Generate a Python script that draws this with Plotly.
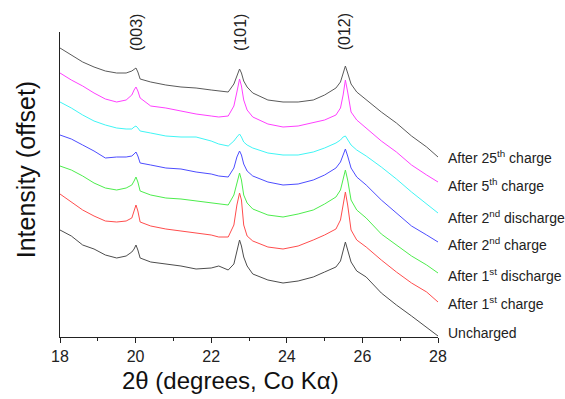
import plotly.graph_objects as go

# 2-theta grid (degrees, Co K-alpha)
two_theta = [18.0, 18.3, 18.6, 18.9, 19.2, 19.5, 19.75, 19.9, 19.96, 20.01, 20.06, 20.12,
             20.4, 20.8, 21.2, 21.6, 22.0, 22.2, 22.45, 22.6, 22.68, 22.75, 22.8, 22.86,
             22.95, 23.1, 23.5, 23.9, 24.3, 24.7, 25.0, 25.3, 25.42, 25.49, 25.55, 25.61,
             25.7, 25.85, 26.1, 26.5, 26.9, 27.3, 27.7, 28.0]

# offset intensities (arbitrary units, already stacked)
uncharged = [107, 101, 92, 88, 82, 79, 81, 85, 88, 92, 87, 79,
             75, 73, 71, 68, 69, 71, 67, 73, 87, 97, 91, 80,
             71, 63, 57, 54, 56, 60, 65, 70, 76, 85, 95, 87,
             75, 66, 60, 44, 32, 21, 10, 1]
after_1st_charge = [143, 135, 127, 121, 116, 115, 116, 119, 125, 132, 126, 115,
                    111, 108, 106, 104, 102, 100, 100, 112, 132, 144, 137, 112,
                    101, 96, 90, 88, 91, 97, 102, 108, 117, 132, 145, 132,
                    107, 97, 90, 77, 65, 54, 45, 35]
after_1st_discharge = [171, 167, 161, 154, 149, 147, 149, 152, 156, 160, 155, 146,
                       142, 139, 138, 136, 134, 133, 132, 142, 155, 164, 157, 142,
                       134, 128, 122, 120, 123, 127, 133, 140, 147, 157, 167, 157,
                       137, 127, 119, 103, 92, 81, 72, 64]
after_2nd_charge = [202, 198, 192, 186, 179, 180, 180, 181, 183, 185, 181, 174,
                    172, 169, 168, 165, 163, 161, 160, 169, 180, 186, 182, 173,
                    166, 161, 155, 152, 153, 157, 162, 169, 175, 183, 188, 181,
                    169, 160, 152, 137, 124, 111, 102, 95]
after_2nd_discharge = [235, 229, 222, 216, 212, 209, 208, 208, 210, 211, 209, 206,
                       204, 201, 200, 200, 196, 193, 191, 196, 200, 203, 200, 195,
                       192, 189, 184, 182, 182, 185, 189, 194, 197, 200, 201, 197,
                       192, 187, 181, 170, 158, 145, 133, 124]
after_5th_charge = [264, 257, 251, 244, 238, 235, 237, 242, 247, 250, 246, 239,
                    231, 229, 226, 223, 221, 220, 221, 231, 245, 258, 251, 237,
                    227, 220, 213, 210, 211, 214, 217, 222, 229, 242, 257, 245,
                    225, 217, 209, 196, 185, 172, 162, 155]
after_25th_charge = [289, 282, 275, 270, 266, 264, 264, 266, 268, 269, 265, 258,
                     255, 252, 250, 249, 247, 246, 245, 253, 262, 268, 264, 256,
                     250, 244, 237, 235, 235, 237, 242, 249, 255, 263, 271, 264,
                     253, 245, 237, 225, 214, 201, 190, 180]

series_names = ["Uncharged", "After 1<sup>st</sup> charge", "After 1<sup>st</sup> discharge",
                "After 2<sup>nd</sup> charge", "After 2<sup>nd</sup> discharge",
                "After 5<sup>th</sup> charge", "After 25<sup>th</sup> charge"]
series_values = [uncharged, after_1st_charge, after_1st_discharge, after_2nd_charge,
                 after_2nd_discharge, after_5th_charge, after_25th_charge]
series_colors = ["#4d4d4d", "#ff4d4d", "#4ded4d", "#4d4dff", "#40f5f5", "#ff40ff", "#5a5a5a"]
label_y = [4, 34, 62, 93, 120, 152, 180]

peak_labels = ["(003)", "(101)", "(012)"]
peak_positions = [20.01, 22.76, 25.52]

x_ticks = [18, 20, 22, 24, 26, 28]

fig = go.Figure()
for name, vals, col in zip(series_names, series_values, series_colors):
    fig.add_trace(go.Scatter(x=two_theta, y=vals, mode="lines", name=name,
                             line=dict(color=col, width=1), showlegend=False))

for name, ly in zip(series_names, label_y):
    fig.add_annotation(x=1.021, y=ly, xref="paper", yref="y", text=name, showarrow=False,
                       xanchor="left", yanchor="middle",
                       font=dict(family="Arial", size=14, color="#222"))

for lab, px in zip(peak_labels, peak_positions):
    fig.add_annotation(x=px, y=1.0, xref="x", yref="paper", text=lab, showarrow=False,
                       textangle=-90, xanchor="center", yanchor="middle", yshift=0,
                       font=dict(family="Arial", size=16, color="#222"))

fig.add_annotation(x=0.45, y=-0.144, xref="paper", yref="paper",
                   text="2θ (degrees, Co Kα)", showarrow=False,
                   xanchor="center", yanchor="middle",
                   font=dict(family="Arial", size=24, color="#111"))
fig.add_annotation(x=-0.09, y=0.55, xref="paper", yref="paper",
                   text="Intensity (offset)", showarrow=False, textangle=-90,
                   xanchor="center", yanchor="middle",
                   font=dict(family="Arial", size=25, color="#111"))

fig.update_xaxes(range=[18, 28], tickvals=x_ticks, ticktext=[str(t) for t in x_ticks],
                 showgrid=False, zeroline=False, showline=True, linecolor="#222",
                 linewidth=1.3, ticks="outside", ticklen=5, tickwidth=1.2, tickcolor="#222",
                 minor=dict(dtick=1, tick0=18, ticks="outside", ticklen=3, tickcolor="#222"),
                 tickfont=dict(family="Arial", size=16, color="#222"))
fig.update_yaxes(range=[0, 305], showgrid=False, zeroline=False, showline=True,
                 linecolor="#222", linewidth=1.3, showticklabels=False, ticks="")

fig.update_layout(width=565, height=399, margin=dict(l=60, r=127, t=32, b=62),
                  plot_bgcolor="white", paper_bgcolor="white")

fig.write_html("out.html")
